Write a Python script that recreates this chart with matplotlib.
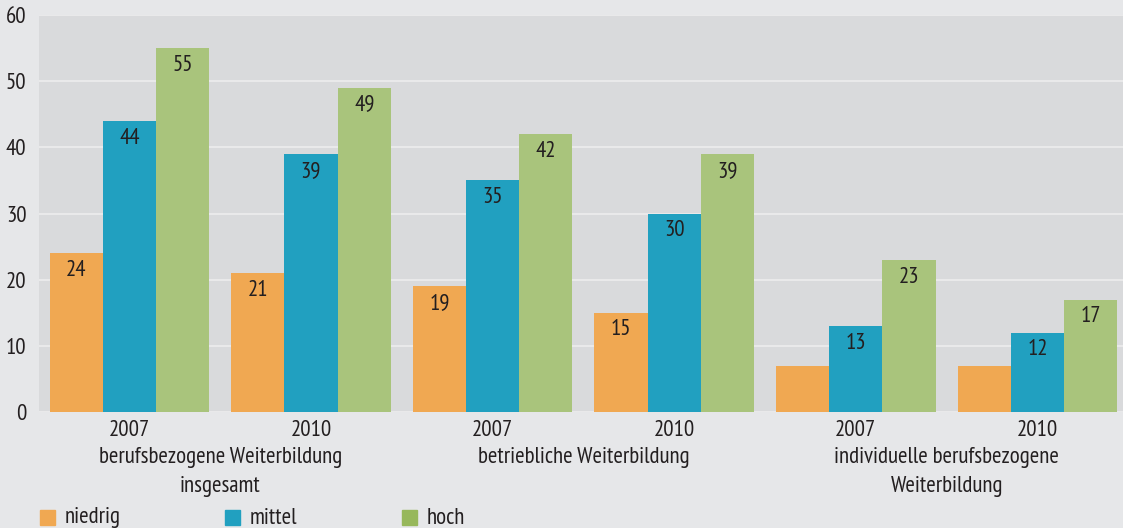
import matplotlib
matplotlib.use("Agg")
import matplotlib.pyplot as plt
import matplotlib.patches as patches
import matplotlib.transforms as mtransforms
import numpy as np

plt.rcParams['font.family'] = ['PT Sans Narrow', 'DejaVu Sans']

# Daten
jahre = ["2007", "2010", "2007", "2010", "2007", "2010"]
kategorien = ["berufsbezogene Weiterbildung\ninsgesamt",
              "betriebliche Weiterbildung",
              "individuelle berufsbezogene\nWeiterbildung"]
serien = ["niedrig", "mittel", "hoch"]
niedrig = [24, 21, 19, 15, 7, 7]
mittel = [44, 39, 35, 30, 13, 12]
hoch = [55, 49, 42, 39, 23, 17]

farben = ["#F0A852", "#21A0C0", "#A9C47C"]
legende_farben = ["#F0A852", "#21A0C0", "#97B85B"]
text_farbe = "#231F20"
fs = 16.5

fig = plt.figure(figsize=(11.23, 5.28), dpi=100, facecolor="#E6E7E9")
ax = fig.add_axes([39 / 1123, 116 / 528, 1 - 39 / 1123, 397 / 528])
ax.set_facecolor("#D9DADC")

x = np.arange(len(jahre))
w = 0.293
for i, (werte, farbe) in enumerate(zip([niedrig, mittel, hoch], farben)):
    pos = x + (i - 1) * w
    bars = ax.bar(pos, werte, width=w, color=farbe, zorder=2)
    for b, v in zip(bars, werte):
        if v < 10:
            continue  # kleine Balken ohne Beschriftung
        ax.text(b.get_x() + w / 2, v - 2.6, str(v), ha="center", va="center",
                fontsize=fs, color=text_farbe, zorder=3)

ax.set_xlim(-0.498, 5.471)
ax.set_ylim(0, 60)
ax.set_yticks(range(0, 61, 10))
ax.yaxis.grid(True, color="#EDEDEE", linewidth=1.2, zorder=1)
ax.set_axisbelow(True)
for s in ax.spines.values():
    s.set_visible(False)
ax.tick_params(length=0, labelsize=fs, labelcolor=text_farbe)
ax.tick_params(axis="y", pad=9)
ax.tick_params(axis="x", pad=6)
ax.set_xticks(x)
ax.set_xticklabels(jahre)

# Kategorienamen unter den Jahren
trans = mtransforms.blended_transform_factory(ax.transData, ax.transAxes)
for k, name in enumerate(kategorien):
    ax.text(2 * k + 0.5, -0.087, name, transform=trans, ha="center", va="top",
            fontsize=fs, color=text_farbe, linespacing=1.5)

# Legende
leg_x = [40, 225, 402]
for name, farbe, lx in zip(serien, legende_farben, leg_x):
    fig.add_artist(patches.Rectangle((lx / 1123, 3 / 528), 15 / 1123, 15 / 528,
                                     transform=fig.transFigure, color=farbe))
    fig.text((lx + 25) / 1123, 10 / 528, name, ha="left", va="center",
             fontsize=fs, color=text_farbe)

fig.savefig("out.png", dpi=100, facecolor=fig.get_facecolor())
